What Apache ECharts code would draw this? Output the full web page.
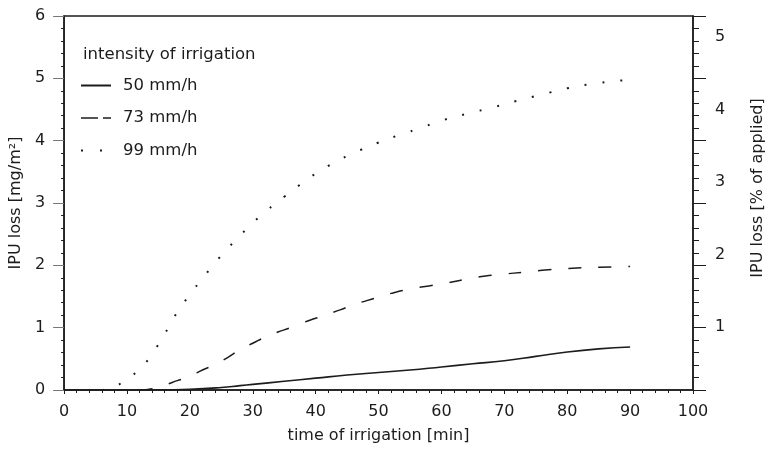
<!DOCTYPE html>
<html>
<head>
<meta charset="utf-8">
<script src="https://cdn.jsdelivr.net/npm/echarts@6/dist/echarts.min.js"></script>
<style>html,body{margin:0;padding:0;background:#fff}#c{width:774px;height:452px}</style>
</head>
<body>
<div id="c"></div>
<script>
// ---- data ----
const seriesNames = ['50 mm/h', '73 mm/h', '99 mm/h'];
const legendTitle = 'intensity of irrigation';
const xTitle = 'time of irrigation [min]';
const yLeftTitle = 'IPU loss [mg/m²]';
const yRightTitle = 'IPU loss [% of applied]';
const rightLabels = [1, 2, 3, 4, 5];

const s50 = [[0,0],[15,0],[20,0.01],[25,0.04],[28,0.07],[30,0.09],[35,0.14],[40,0.19],[45,0.24],[50,0.28],[55,0.32],[60,0.37],[65,0.42],[70,0.47],[75,0.54],[80,0.61],[85,0.66],[90,0.69]];
const s73 = [[12,0],[14,0.02],[16,0.08],[18,0.15],[20,0.22],[22,0.32],[24,0.41],[26,0.52],[28,0.65],[30,0.75],[32,0.85],[34,0.93],[36,1.0],[38,1.08],[40,1.15],[42,1.22],[44,1.29],[46,1.37],[48,1.43],[50,1.49],[52,1.55],[55,1.62],[58,1.67],[61,1.72],[64,1.78],[67,1.83],[70,1.86],[73,1.89],[76,1.92],[80,1.95],[85,1.97],[90,1.98]];
const s99 = [[6,0],[8,0.05],[10,0.18],[12,0.33],[14,0.58],[16,0.9],[18,1.25],[20,1.53],[22,1.79],[24,2.04],[26,2.27],[28,2.48],[30,2.68],[32,2.86],[35,3.1],[38,3.33],[40,3.47],[43,3.65],[46,3.8],[50,3.97],[53,4.08],[56,4.18],[60,4.32],[64,4.43],[68,4.53],[72,4.64],[76,4.74],[80,4.84],[84,4.91],[88,4.96],[90,4.97]];

// ---- chart ----
const FONT = 'DejaVu Sans';
const INK = '#1c1c1c';
const chart = echarts.init(document.getElementById('c'), null, {renderer: 'canvas'});
const txt = {fontFamily: FONT, fontSize: 16, color: INK};

chart.setOption({
  backgroundColor: '#fff',
  animation: false,
  title: {
    text: legendTitle, left: 83, top: 46, padding: 0,
    textStyle: {fontFamily: FONT, fontSize: 16.5, fontWeight: 'normal', color: INK}
  },
  legend: {
    orient: 'vertical', left: 75, top: 72, itemWidth: 30, itemHeight: 16, itemGap: 15.5,
    itemStyle: {color: 'rgba(0,0,0,0)', borderWidth: 0, borderColor: 'rgba(0,0,0,0)'},
    textStyle: {fontFamily: FONT, fontSize: 16.5, color: INK, lineHeight: 16, padding: [0,0,0,7]},
    data: [
      {name: seriesNames[0]},
      {name: seriesNames[1], lineStyle: {type: [17, 5], width: 1.5}},
      {name: seriesNames[2], lineStyle: {type: [2, 17], width: 2}}
    ]
  },
  grid: {left: 58, right: 71, top: 16, bottom: 62, show: true, borderColor: INK, borderWidth: 1.5, containLabel: false},
  xAxis: {
    type: 'value', min: 0, max: 100, interval: 10,
    name: xTitle, nameLocation: 'middle', nameGap: 38,
    nameTextStyle: txt,
    axisLine: {show: true, lineStyle: {color: INK, width: 1.5}},
    axisTick: {show: true, length: 4, lineStyle: {color: INK}},
    minorTick: {show: true, splitNumber: 5, length: 3, lineStyle: {color: INK}},
    axisLabel: Object.assign({margin: 14}, txt),
    splitLine: {show: false}
  },
  yAxis: [
    {
      type: 'value', position: 'left', min: 0, max: 6, interval: 1,
      name: yLeftTitle, nameLocation: 'middle', nameGap: 36,
      nameTextStyle: txt,
      axisLine: {show: true, lineStyle: {color: INK, width: 1.5}},
      axisTick: {show: true, length: 11, lineStyle: {color: '#777'}},
      minorTick: {show: true, splitNumber: 5, length: 3, lineStyle: {color: INK}},
      axisLabel: Object.assign({margin: 19}, txt),
      splitLine: {show: false}
    },
    {
      type: 'value', position: 'right', min: 0, max: 6, interval: 1,
      axisLine: {show: true, lineStyle: {color: INK, width: 1.5}},
      axisTick: {show: true, length: 13, lineStyle: {color: INK}},
      minorTick: {show: true, splitNumber: 5, length: 6, lineStyle: {color: INK}},
      axisLabel: {show: false},
      splitLine: {show: false}
    },
    {
      type: 'value', position: 'right', min: 0.13, max: 5.29,
      name: yRightTitle, nameLocation: 'middle', nameGap: 57,
      nameTextStyle: Object.assign({padding: [0,0,0,30]}, txt),
      axisLine: {show: false},
      axisTick: {show: false},
      axisLabel: Object.assign({margin: 22, customValues: rightLabels}, txt),
      splitLine: {show: false}
    }
  ],
  series: [
    {name: seriesNames[0], type: 'line', data: s50, symbol: 'none', smooth: true,
     lineStyle: {color: INK, width: 1.6, type: 'solid'}, itemStyle: {color: INK}},
    {name: seriesNames[1], type: 'line', data: s73, symbol: 'none', smooth: true,
     lineStyle: {color: INK, width: 1.5, type: [13, 17]}, itemStyle: {color: INK}},
    {name: seriesNames[2], type: 'line', data: s99, symbol: 'none', smooth: true,
     lineStyle: {color: INK, width: 2, type: [2, 16]}, itemStyle: {color: INK}}
  ]
});
</script>
</body>
</html>
